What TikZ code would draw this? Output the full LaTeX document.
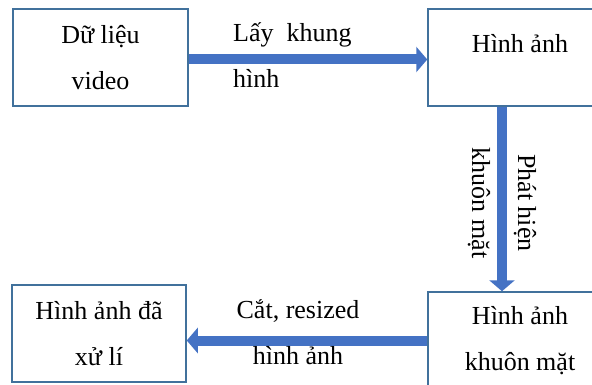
\documentclass[tikz,border=0pt]{standalone}
\usepackage{fontspec}
\setmainfont{Liberation Serif}
\usetikzlibrary{arrows.meta}
\definecolor{boxline}{HTML}{41719C}
\definecolor{arrowfill}{HTML}{4472C4}
\tikzset{
	box/.style={draw=boxline, line width=1.5pt, minimum width=175pt, minimum height=97pt, align=center, inner sep=0pt, font=\fontsize{26pt}{46pt}\selectfont},
	txt/.style={inner sep=0pt, font=\fontsize{26pt}{46pt}\selectfont},
	flow/.style={arrowfill, line width=10pt, -{Triangle[width=25pt,length=11pt]}}
}

\begin{document}
\begin{tikzpicture}[x=1pt, y=-1pt]
	%%%%% START %%%%%
	\path[use as bounding box, fill=white] (0,0) rectangle (592,385);
	\clip (0,0) rectangle (592,385);

	% boxes
	\node[box] (video) at (100.5, 57.5) {Dữ liệu\\video};
	\node[box, minimum width=184pt, text height=19pt, text depth=28pt] (frame) at (520, 57.5) {Hình ảnh};
	\node[box, minimum width=184pt] (face) at (520, 340.5) {Hình ảnh\\khuôn mặt};
	\node[box, minimum width=174pt] (done) at (99, 333.5) {Hình ảnh đã\\xử lí};

	% arrows
	\draw[flow] ([yshift=-2pt]video.east) -- ([yshift=-2pt]frame.west);
	\draw[flow] ([xshift=-18pt]frame.south) -- ([xshift=-18pt]face.north);
	\draw[flow] (face.west) -- (face.west -| done.east);

	% labels
	\node[txt, align=left, anchor=west] (grab) at (233, 55) {Lấy\ \ khung\\hình};
	\node[txt, align=center, rotate=-90] (detect) at (502, 203) {Phát hiện\\khuôn mặt};
	\node[txt, align=center] (crop) at (298, 332) {Cắt, resized\\hình ảnh};

	%%%%% END %%%%%
\end{tikzpicture}
\end{document}
